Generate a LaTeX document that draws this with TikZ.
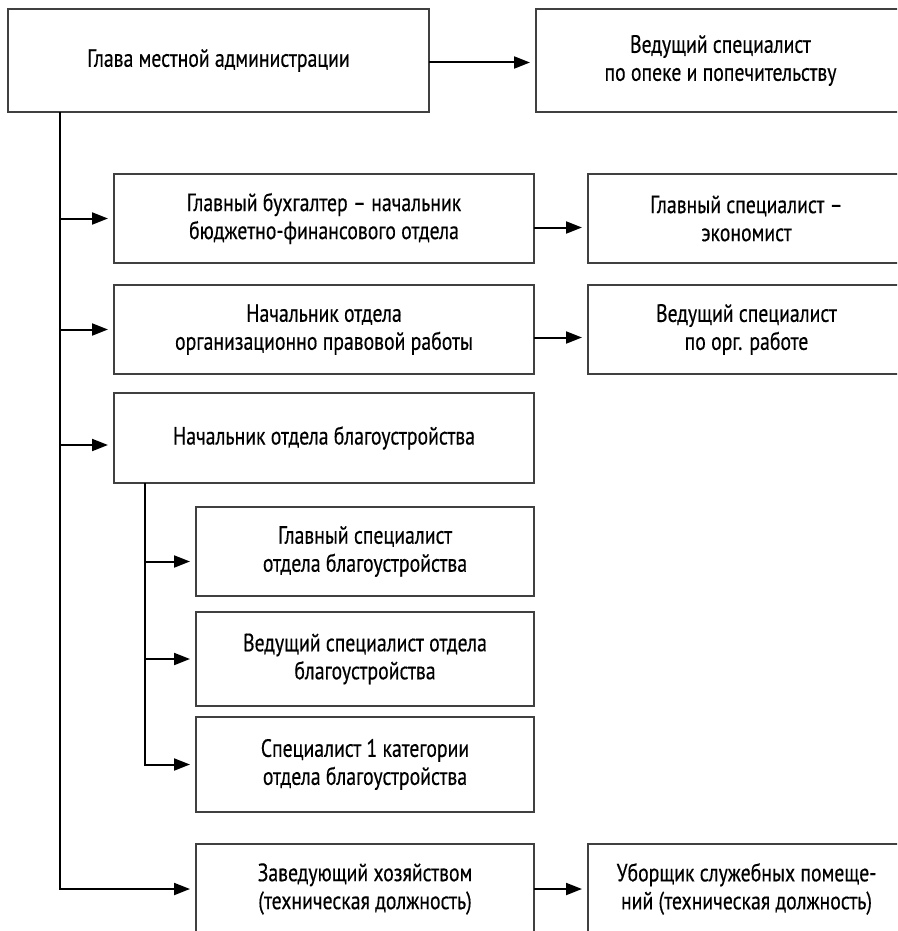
\documentclass[tikz,border=0pt]{standalone}
\usepackage{fontspec}
\setmainfont{PT Sans}[FakeStretch=0.79,FakeBold=0.4]
\usetikzlibrary{arrows.meta}
\tikzset{
  box/.style={draw=black!75, line width=1.3pt, rectangle, inner sep=0pt, outer sep=0pt,
    align=center, font=\fontsize{25pt}{28pt}\selectfont},
  conn/.style={draw=black, line width=2pt},
  arr/.style={conn, -{Triangle[length=16pt,width=12pt]}, shorten >=6pt}
}
\begin{document}
\begin{tikzpicture}[x=1pt,y=-1pt]
\useasboundingbox (0,0) rectangle (897,931);
\clip (0,0) rectangle (897,931);
\fill[white] (0,0) rectangle (897,931);
% boxes
\node[box, minimum width=421pt, minimum height=103pt] (glava) at (218.5,60.5) {Глава местной администрации};
\node[box, minimum width=369pt, minimum height=103pt] (opeka) at (720.5,60.5) {Ведущий специалист\\по опеке и попечительству};
\node[box, minimum width=420pt, minimum height=89pt] (buh) at (324,218.5) {Главный бухгалтер – начальник\\бюджетно-финансового отдела};
\node[box, minimum width=317pt, minimum height=89pt] (econ) at (746.5,218.5) {Главный специалист –\\экономист};
\node[box, minimum width=420pt, minimum height=89pt] (org) at (324,329.5) {Начальник отдела\\организационно правовой работы};
\node[box, minimum width=317pt, minimum height=89pt] (orgspec) at (746.5,329.5) {Ведущий специалист\\по орг. работе};
\node[box, minimum width=420pt, minimum height=90pt] (blag) at (324,438) {Начальник отдела благоустройства};
\node[box, minimum width=338pt, minimum height=89pt] (gs) at (365,551.5) {Главный специалист\\отдела благоустройства};
\node[box, minimum width=338pt, minimum height=94pt] (vs) at (365,659) {Ведущий специалист отдела\\благоустройства};
\node[box, minimum width=338pt, minimum height=95pt] (sone) at (365,764.5) {Специалист 1 категории\\отдела благоустройства};
\node[box, minimum width=338pt, minimum height=90pt] (zav) at (365,889) {Заведующий хозяйством\\(техническая должность)};
\node[box, minimum width=317pt, minimum height=90pt] (ub) at (746.5,889) {Уборщик служебных помеще-\\ний (техническая должность)};
% trunk coordinates
\coordinate (t0) at (60,112);
\coordinate (t1) at (145,483);
% connectors
\draw[arr] ([yshift=-2pt]glava.east) -- ([yshift=-2pt]opeka.west);
\draw[arr] (t0) |- (zav.west);
\draw[arr] (t0 |- buh.west) -- (buh.west);
\draw[arr] (t0 |- org.west) -- (org.west);
\draw[arr] ([yshift=-7pt]t0 |- blag.west) -- ([yshift=-7pt]blag.west);
\draw[arr] ([yshift=-9pt]buh.east) -- ([yshift=-9pt]econ.west);
\draw[arr] ([yshift=-8pt]org.east) -- ([yshift=-8pt]orgspec.west);
\draw[arr] (zav.east) -- (ub.west);
\draw[arr] (t1) |- (sone.west);
\draw[arr] ([yshift=-10pt]t1 |- gs.west) -- ([yshift=-10pt]gs.west);
\draw[arr] (t1 |- vs.west) -- (vs.west);
\end{tikzpicture}
\end{document}
